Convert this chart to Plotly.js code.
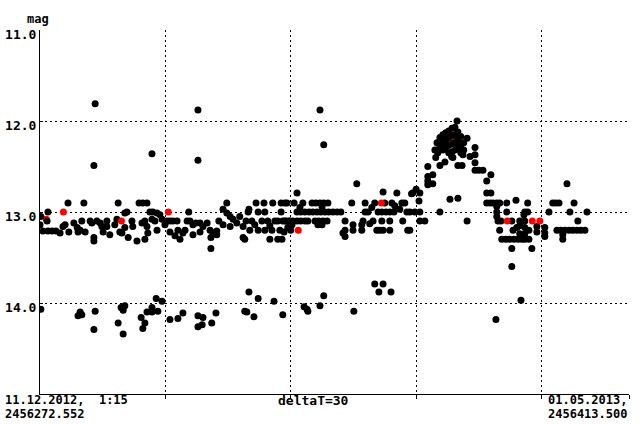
<!DOCTYPE html>
<html><head><meta charset="utf-8">
<script src="https://cdn.plot.ly/plotly-3.0.1.min.js"></script>
<style>html,body{margin:0;padding:0;background:#fff}#chart{width:640px;height:424px}</style>
</head><body><div id="chart"></div>
<script>
// Days since JD 2456272.552 (11.12.2012 1:15) and magnitudes
const startJD = 2456272.552, endJD = 2456413.500;
const seg1Days = [0.2,0.0,1.9,1.7,0.7,1.9,2.9,3.8,6.7,4.8,5.5,6.0,6.9,8.1,8.9,9.1,9.6,10.0,10.5,10.8,12.0,12.4,12.9,12.9,13.6,14.4,14.8,15.1,16.0,16.0,16.7,17.9,18.4,18.7,19.1,19.6,20.3,20.3,20.8,21.1,22.0,22.2,23.2,23.7,24.6,25.6,24.4,25.1,25.6,25.8,25.1,26.3,27.0,28.0,28.7,28.0,27.5,29.2,26.8];
const seg1Mag = [13.05,13.14,13.0,13.1,13.21,13.21,13.21,13.21,12.9,13.23,13.16,13.14,13.22,13.12,13.17,13.22,13.2,13.1,12.9,13.22,13.1,13.12,13.28,13.32,13.1,13.12,13.16,13.22,13.1,13.16,13.25,13.14,13.08,12.9,13.22,13.23,13.17,13.01,13.0,13.28,13.1,13.16,13.32,12.9,12.9,12.9,13.12,13.1,13.16,13.23,13.3,13.0,13.0,13.01,13.03,13.2,13.1,13.08,13.08];
const seg2Days = [30.4,31.1,31.8,32.8,33.0,34.2,35.6,35.2,35.9,36.6,37.3,38.3,39.0,36.6,31.1,32.3,33.5,40.0,40.7,41.4,40.9,40.9,42.3,42.3,42.8,43.8,44.7,44.7,45.5,46.2,47.1,47.8,48.6,48.6,49.0,49.8,50.0,49.3,50.2,50.7,51.7,53.6,55.7,57.7,58.6,52.2,53.8,57.7,51.4,52.2,53.1,53.8,54.5,55.0,55.5,56.2,56.9,57.4,58.1,58.9,59.8,55.0,56.9,57.9,59.3,58.4,29.9,34.7,38.3,43.8,45.5];
const seg2Mag = [13.1,13.1,13.1,13.1,13.2,13.23,13.0,13.1,13.1,13.14,13.12,13.12,13.16,13.25,13.22,13.26,13.3,13.12,13.2,13.23,13.28,13.4,13.21,13.25,13.1,12.97,13.01,12.9,13.05,13.08,13.12,13.05,13.16,13.28,13.3,13.0,12.97,13.1,13.2,13.1,12.9,12.9,12.9,12.9,12.9,13.0,13.0,13.0,13.14,13.2,13.1,13.2,13.1,13.15,13.2,13.1,13.1,13.2,13.1,13.1,13.1,13.3,13.3,13.3,13.17,13.22,13.14,13.2,13.22,13.14,13.16];
const seg3Days = [59.1,60.8,62.9,65.1,66.0,67.0,67.9,68.9,61.5,74.6,77.8,80.1,82.5,84.2,86.6,87.3,61.5,62.4,63.4,64.4,65.3,66.3,67.2,68.2,69.1,70.1,71.1,72.0,67.5,62.2,77.8,78.5,80.9,81.8,82.8,83.7,84.7,87.8,88.5,79.4,84.9,86.1,58.6,59.6,60.5,61.5,62.4,63.4,64.1,65.8,66.7,67.7,68.7,73.0,77.3,79.7,81.8,83.7,86.8,60.3,66.5,67.5,60.0,73.0,74.9,77.0,80.6,81.3,82.1,83.7,88.0,72.5,73.0,74.9,77.0,78.9,88.9,85.4,82.1,75.8];
const seg3Mag = [12.9,12.9,12.9,12.9,12.9,12.9,12.9,12.9,12.79,12.9,12.9,12.9,12.9,12.9,12.9,12.9,13.0,13.0,13.0,13.0,13.0,13.0,13.0,13.0,13.0,13.0,13.0,13.0,12.94,12.95,13.0,13.0,13.0,13.0,13.0,13.0,13.0,13.0,13.0,12.95,12.93,12.97,13.1,13.1,13.1,13.1,13.1,13.1,13.1,13.1,13.1,13.1,13.1,13.1,13.1,13.1,13.1,13.1,13.1,13.14,13.14,13.14,13.2,13.2,13.2,13.2,13.2,13.2,13.2,13.2,13.2,13.23,13.27,13.14,13.14,13.13,12.8,12.79,12.78,12.69];
const seg4Days = [89.7,90.9,95.7,90.9,92.1,88.5,89.2,90.9,90.0,90.7,92.8,92.8,92.8,94.0,94.0,92.8,95.7,94.7,96.9,98.1,100.0,102.2,98.8,100.0,101.0,102.2,102.9,104.1,104.1,104.1,104.1,105.0,106.0,107.9,106.9,106.9,107.9,106.9,107.7,108.4,109.3,110.0,109.3,109.3,109.3,109.6,110.3,111.7,113.9,116.7,111.7,116.0,116.7,112.9,110.0,113.2,114.1,114.8,116.0,116.0,116.0,116.0,117.0,110.5,111.5,112.4,113.4,114.4,115.3,117.0,112.9,117.7,112.9,115.1,114.8,114.8,115.8,118.9,118.9,120.8,120.8,120.8,122.7,123.4,124.2,127.8,121.8,126.8,130.9,128.7,123.7,124.6,125.6,126.6,127.5,128.5,129.4,130.4,125.1,125.1,126.1];
const seg4Mag = [13.0,13.0,13.0,13.1,13.1,13.2,12.79,12.79,12.75,12.88,12.61,12.66,12.7,12.59,12.69,12.5,12.49,12.4,12.45,12.86,12.85,13.1,12.4,12.49,12.49,12.19,12.39,12.29,12.37,12.46,12.54,12.54,12.54,12.59,12.66,12.79,12.79,12.9,12.9,12.9,12.9,12.9,12.94,13.0,13.05,13.1,13.1,12.9,12.87,12.9,13.0,13.0,13.0,13.1,13.2,13.2,13.17,13.15,13.1,13.17,13.24,13.3,13.2,13.3,13.3,13.3,13.3,13.3,13.3,13.3,13.4,13.4,13.6,13.97,13.1,13.24,13.03,13.16,13.22,13.17,13.23,13.27,12.9,12.9,12.9,12.9,13.0,13.0,13.0,13.1,13.2,13.2,13.2,13.2,13.2,13.2,13.2,13.2,13.25,13.3,12.69];
const peakDays = [95.0,95.7,95.7,96.4,96.4,96.4,97.1,97.1,97.1,97.8,97.8,97.8,97.8,98.6,98.6,98.6,98.6,99.3,99.3,99.3,99.3,100.0,100.0,100.0,100.7,100.7,100.7,101.4,101.4,94.5,95.2,98.5,101.2,99.8];
const peakMag = [12.24,12.18,12.28,12.15,12.24,12.32,12.13,12.21,12.29,12.11,12.18,12.27,12.35,12.08,12.16,12.25,12.34,12.07,12.15,12.24,12.32,12.12,12.21,12.29,12.17,12.26,12.35,12.24,12.32,12.32,12.35,12.39,12.37,12.0];
const brightDays = [13.2,12.9,26.8,37.8,37.8,67.0,67.9];
const brightMag = [11.81,12.49,12.36,11.88,12.43,11.88,12.26];
const faintDays = [0.2,9.1,9.6,10.0,13.2,12.9,18.7,19.4,19.9,20.3,19.9,24.2,24.6,25.1,25.6,26.8,26.8,27.8,28.2,29.2,31.1,33.0,34.2,37.8,37.8,39.0,38.8,41.1,42.1,49.0,49.5,50.0,51.2,52.2,56.0,58.1,63.2,63.9,64.1,67.0,67.9,75.1,80.1,82.1,81.1,84.0,109.1];
const faintMag = [14.07,14.14,14.1,14.13,14.09,14.29,14.22,14.05,14.08,14.03,14.34,14.16,14.28,14.22,14.1,14.05,14.1,13.95,14.09,13.98,14.18,14.17,14.11,14.14,14.26,14.16,14.24,14.22,14.11,14.09,14.1,13.88,14.15,13.95,13.98,14.13,14.04,14.07,14.09,14.03,13.92,14.09,13.79,13.79,13.88,13.88,14.18];
const redDays = [5.6,19.5,30.7,61.8,81.7,111.8,117.8,119.6];
const redMag = [13.0,13.1,13.0,13.2,12.9,13.1,13.1,13.1];
const redHiddenDays = [1.5,98.9];
const redHiddenMag = [13.08,12.2];
const yTicks = [11,12,13,14];
const yTickText = ['11.0','12.0','13.0','14.0'];
const xGrid = [30,60,90,120];

const blackDays = [].concat(seg1Days, seg2Days, seg3Days, seg4Days, peakDays, brightDays, faintDays);
const blackMag = [].concat(seg1Mag, seg2Mag, seg3Mag, seg4Mag, peakMag, brightMag, faintMag);
const span = endJD - startJD;

const FAM = 'DejaVu Sans Mono, Liberation Mono, monospace';
const FONT = {family: FAM, size: 13, color: '#000', weight: 'bold'};
const SMALL = {family: FAM, size: 12, color: '#000', weight: 'bold'};
const mk = c => ({color: c, size: 7, symbol: 'circle', line: {width: 0}});

const traces = [
  {x: redHiddenDays, y: redHiddenMag, mode: 'markers', type: 'scatter', marker: mk('#ff0000'), hoverinfo: 'skip'},
  {x: blackDays, y: blackMag, mode: 'markers', type: 'scatter', marker: mk('#000000'), hoverinfo: 'skip'},
  {x: redDays, y: redMag, mode: 'markers', type: 'scatter', marker: mk('#ff0000'), hoverinfo: 'skip'}
];

const layout = {
  width: 640, height: 424,
  margin: {l: 40, r: 11, t: 30, b: 30, pad: 0},
  paper_bgcolor: '#fff', plot_bgcolor: '#fff',
  showlegend: false,
  font: FONT,
  xaxis: {
    range: [0, span], showgrid: true, gridcolor: '#000', gridwidth: 1, griddash: '2px,3px',
    tickmode: 'array', tickvals: xGrid.concat([span]), showticklabels: false,
    ticks: 'outside', ticklen: 4, tickcolor: '#000',
    showline: true, linecolor: '#000', linewidth: 1, zeroline: false, mirror: false, fixedrange: true
  },
  yaxis: {
    range: [15, 11], showgrid: true, gridcolor: '#000', gridwidth: 1, griddash: '2px,3px',
    tickmode: 'array', tickvals: yTicks, ticktext: yTickText,
    ticks: 'inside', ticklen: 3, tickcolor: '#000', tickfont: FONT, ticklabelshift: -4,
    showline: true, linecolor: '#000', linewidth: 1, zeroline: false, mirror: false, fixedrange: true
  },
  annotations: [
    {text: 'mag', xref: 'paper', yref: 'paper', x: -0.003, y: 1, yshift: 11, xanchor: 'center', yanchor: 'middle', showarrow: false, font: SMALL},
    {text: '11.12.2012,  1:15', xref: 'paper', yref: 'paper', x: -0.0628, y: 0, yshift: -6, xanchor: 'left', yanchor: 'middle', showarrow: false, font: SMALL},
    {text: startJD.toFixed(3), xref: 'paper', yref: 'paper', x: -0.0628, y: 0, yshift: -20, xanchor: 'left', yanchor: 'middle', showarrow: false, font: SMALL},
    {text: 'deltaT=30', xref: 'paper', yref: 'paper', x: 0.465, y: 0, yshift: -6, xanchor: 'center', yanchor: 'middle', showarrow: false, font: FONT},
    {text: '01.05.2013,', xref: 'paper', yref: 'paper', x: 1, y: 0, yshift: -6, xanchor: 'right', yanchor: 'middle', showarrow: false, font: SMALL},
    {text: endJD.toFixed(3), xref: 'paper', yref: 'paper', x: 1, y: 0, yshift: -20, xanchor: 'right', yanchor: 'middle', showarrow: false, font: SMALL}
  ]
};
Plotly.newPlot('chart', traces, layout, {staticPlot: true, displayModeBar: false});
</script></body></html>
